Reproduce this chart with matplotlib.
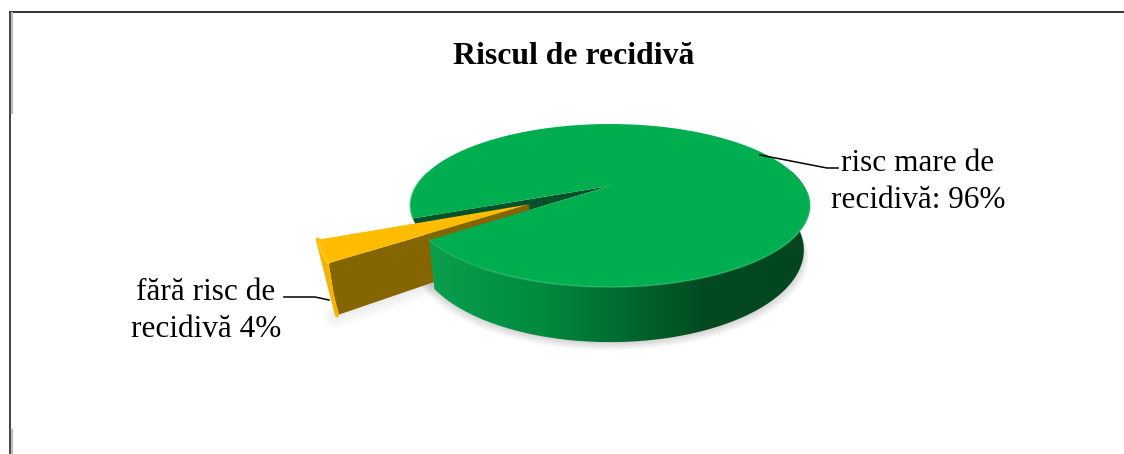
import numpy as np
import matplotlib
matplotlib.use("Agg")
import matplotlib.pyplot as plt
from matplotlib.colors import LinearSegmentedColormap
from matplotlib.patches import Polygon

titlu = "Riscul de recidivă"
valori = [96, 4]
etichete = ["risc mare de\nrecidivă: {}%", "fără risc de\nrecidivă {}%"]

# proiectia discului (perspectiva), in pixeli
cx, cy = 610, 186
rx, b, k = 194, 76.8, 0.239
h = 42
sx = 0.97
start = 143
explode = 0.455
raza_mica = 0.97


def proiect(u, v, jos=False):
    u, v = np.asarray(u, float), np.asarray(v, float)
    w = 1 - k * v
    if jos:
        return cx + rx * sx * u / w, cy + b * v / w + h / w
    return cx + rx * u / w, cy + b * v / w


def arc(a1, a2, n=200):
    t = np.radians(np.linspace(a1, a2, n))
    return np.cos(t), np.sin(t)


def poly(x, y, **kw):
    p = Polygon(np.column_stack([x, y]), closed=True, lw=0, **kw)
    ax.add_patch(p)
    return p


fig = plt.figure(figsize=(11.24, 4.54), dpi=100)
ax = fig.add_axes([0, 0, 1, 1])
ax.set_xlim(0, 1124)
ax.set_ylim(454, 0)
ax.axis("off")

unghi_mic = 360 * valori[1] / sum(valori)
a_mic1, a_mic2 = start, start + unghi_mic
a_mij = np.radians((a_mic1 + a_mic2) / 2)
dx, dy = explode * np.cos(a_mij), explode * np.sin(a_mij)

# umbra
ux, uy = arc(-20, 200)
for s in range(7):
    x, y = proiect(ux, uy, True)
    poly(610 + (x - 610) * (1 + s * 0.004), y + 1 + s * 1.2, fc="#000000", alpha=0.025, zorder=1)
ax1, ay1 = raza_mica * np.cos(np.radians(a_mic1)), raza_mica * np.sin(np.radians(a_mic1))
x, y = proiect([dx, dx + ax1], [dy, dy + ay1], True)
for s in range(6):
    ax.plot(x - 2, y + 1, color="#000000", alpha=0.012, lw=3 + s * 3, solid_capstyle="round", zorder=1)

# golul din sectorul mare
gx, gy = arc(a_mic1, a_mic2, 40)
x, y = proiect(np.r_[0, gx], np.r_[0, gy])
poly(x, y, fc="#01512A", zorder=2)

# sectorul mic: perete lateral, margine, fata de sus
mx, my = arc(a_mic1, a_mic2, 40)
mx, my = mx * raza_mica, my * raza_mica
xs, ys = proiect([dx, dx + ax1], [dy, dy + ay1])
xj, yj = proiect([dx + ax1, dx], [dy + ay1, dy], True)
poly(np.r_[xs, xj], np.r_[ys, yj], fc="#846500", zorder=3)
xt, yt = proiect(mx + dx, my + dy)
poly(np.r_[xt, xj[0]], np.r_[yt, yj[0]], fc="#F5B300", zorder=3.2)
ax.plot([xt[-1], xj[0]], [yt[-1], yj[0]], color="#F5B300", lw=3, solid_capstyle="round", zorder=3.2)
poly(np.r_[proiect(dx, dy)[0], xt], np.r_[proiect(dx, dy)[1], yt], fc="#FFBC00", zorder=3.4)
ax.plot(xt, yt, color="#FFC61A", lw=2, solid_capstyle="round", zorder=3.5)

# sectorul mare: perete cu degrade
px, py = arc(-12, start, 300)
xs, ys = proiect(px, py)
xj, yj = proiect(px, py, True)
cm = LinearSegmentedColormap.from_list("g", [(0, "#0A9F4D"), (0.3, "#00893F"), (0.52, "#01672F"),
                                             (0.72, "#024A20"), (1, "#03451F")])
grad = np.linspace(0, 1, 400)[None, :]
im = ax.imshow(grad, extent=(430, 812, 454, 0), cmap=cm, aspect="auto", zorder=4, vmin=0, vmax=1)
ax.set_xlim(0, 1124)
ax.set_ylim(454, 0)
pp = poly(np.r_[xs, xj[::-1]], np.r_[ys, yj[::-1]], fc="none", zorder=4)
im.set_clip_path(pp)

# fata de sus
tx, ty = arc(a_mic2, start + 360, 500)
x, y = proiect(np.r_[0, tx], np.r_[0, ty])
poly(x, y, fc="#00AE50", zorder=5)
rx1, ry1 = arc(5, start, 200)
xr, yr = proiect(rx1, ry1)
ax.plot(xr, yr, color="#2ABF6C", lw=1.4, alpha=0.5, zorder=5.5)
rx2, ry2 = arc(a_mic2, 190, 60)
xr, yr = proiect(rx2, ry2)
ax.plot(xr, yr, color="#2ABF6C", lw=1.2, alpha=0.5, zorder=5.5)

# titlu si etichete
font = "Liberation Serif"
ax.text(574, 57, titlu, ha="center", va="center", family=font, weight="bold", fontsize=22.9, color="black", zorder=8)
ax.text(918, 182, etichete[0].format(valori[0]), ha="center", va="center", family=font, fontsize=22.5,
        linespacing=1.33, color="black", zorder=8)
ax.text(206, 311, etichete[1].format(valori[1]), ha="center", va="center", family=font, fontsize=22.5,
        linespacing=1.33, color="black", zorder=8)
ax.plot([760, 827, 838], [155, 168, 168], color="black", lw=1.1, zorder=8)
ax.plot([284, 315, 329], [297, 297, 300], color="black", lw=1.1, zorder=8)

# chenar
ax.plot([10, 1124], [12, 12], color="#222222", lw=1.3, zorder=9)
ax.plot([10, 10], [12, 454], color="#333333", lw=1.3, zorder=9)
ax.plot([12, 12], [13, 113], color="#BBBBBB", lw=1.6, zorder=9)
ax.plot([12, 12], [430, 454], color="#BBBBBB", lw=1.6, zorder=9)

fig.savefig("out.png", dpi=100)
